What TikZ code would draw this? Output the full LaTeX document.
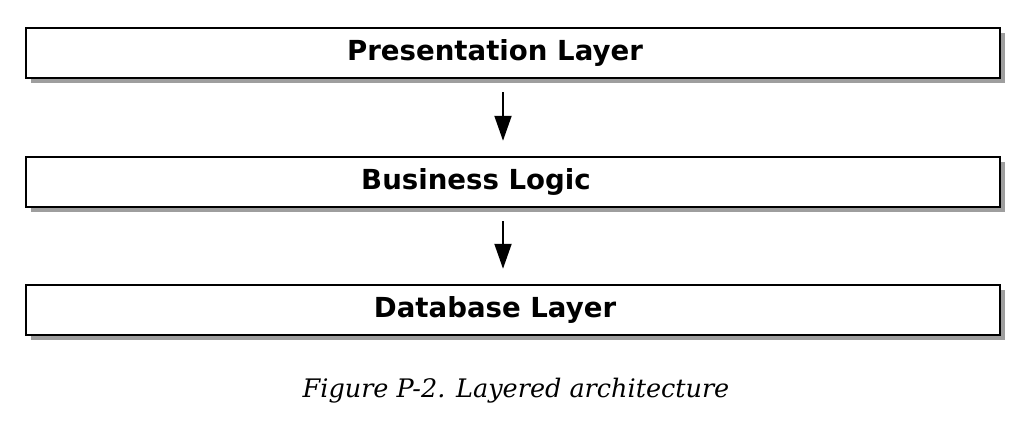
\documentclass[tikz,border=0pt]{standalone}
\usepackage{fontspec}
\setmainfont{DejaVu Sans}
\newfontfamily\capfont{DejaVu Serif}
\usetikzlibrary{positioning, shadows, arrows.meta}

\begin{document}
\begin{tikzpicture}[x=1pt, y=-1pt]
        \tikzset{
          layerbox/.style={draw=black, line width=2.5pt, fill=white,
            minimum width=974pt, minimum height=50pt, inner sep=0pt,
            drop shadow={shadow xshift=5pt, shadow yshift=-5pt, fill=black!38, opacity=1}},
          layertext/.style={font=\fontsize{27.6}{30}\selectfont\bfseries, inner sep=0pt},
          flow/.style={line width=2pt, -{Triangle[width=17pt, length=25pt]},
            shorten <=13pt, shorten >=15pt}
        }
        \useasboundingbox (0,0) rectangle (1032,428);
        % the three layers
        \node [layerbox] (pres) at (513,53) {};
        \node [layerbox] (biz) at (513,182) {};
        \node [layerbox] (db) at (513,310) {};
        \node [layertext] (presl) at ([xshift=-18pt]pres.center) {Presentation Layer};
        \node [layertext] (bizl) at ([xshift=-37pt]biz.center) {Business Logic};
        \node [layertext] (dbl) at ([xshift=-18pt]db.center) {Database Layer};
        % arrows between layers
        \draw [flow] ([xshift=-10pt]pres.south) -- ([xshift=-10pt]biz.north);
        \draw [flow] ([xshift=-10pt]biz.south) -- ([xshift=-10pt]db.north);
        % caption
        \node [font=\capfont\itshape\fontsize{25.5}{30}\selectfont, inner sep=0pt] (cap) at (516,391) {Figure P-2. Layered architecture};
\end{tikzpicture}
\end{document}
